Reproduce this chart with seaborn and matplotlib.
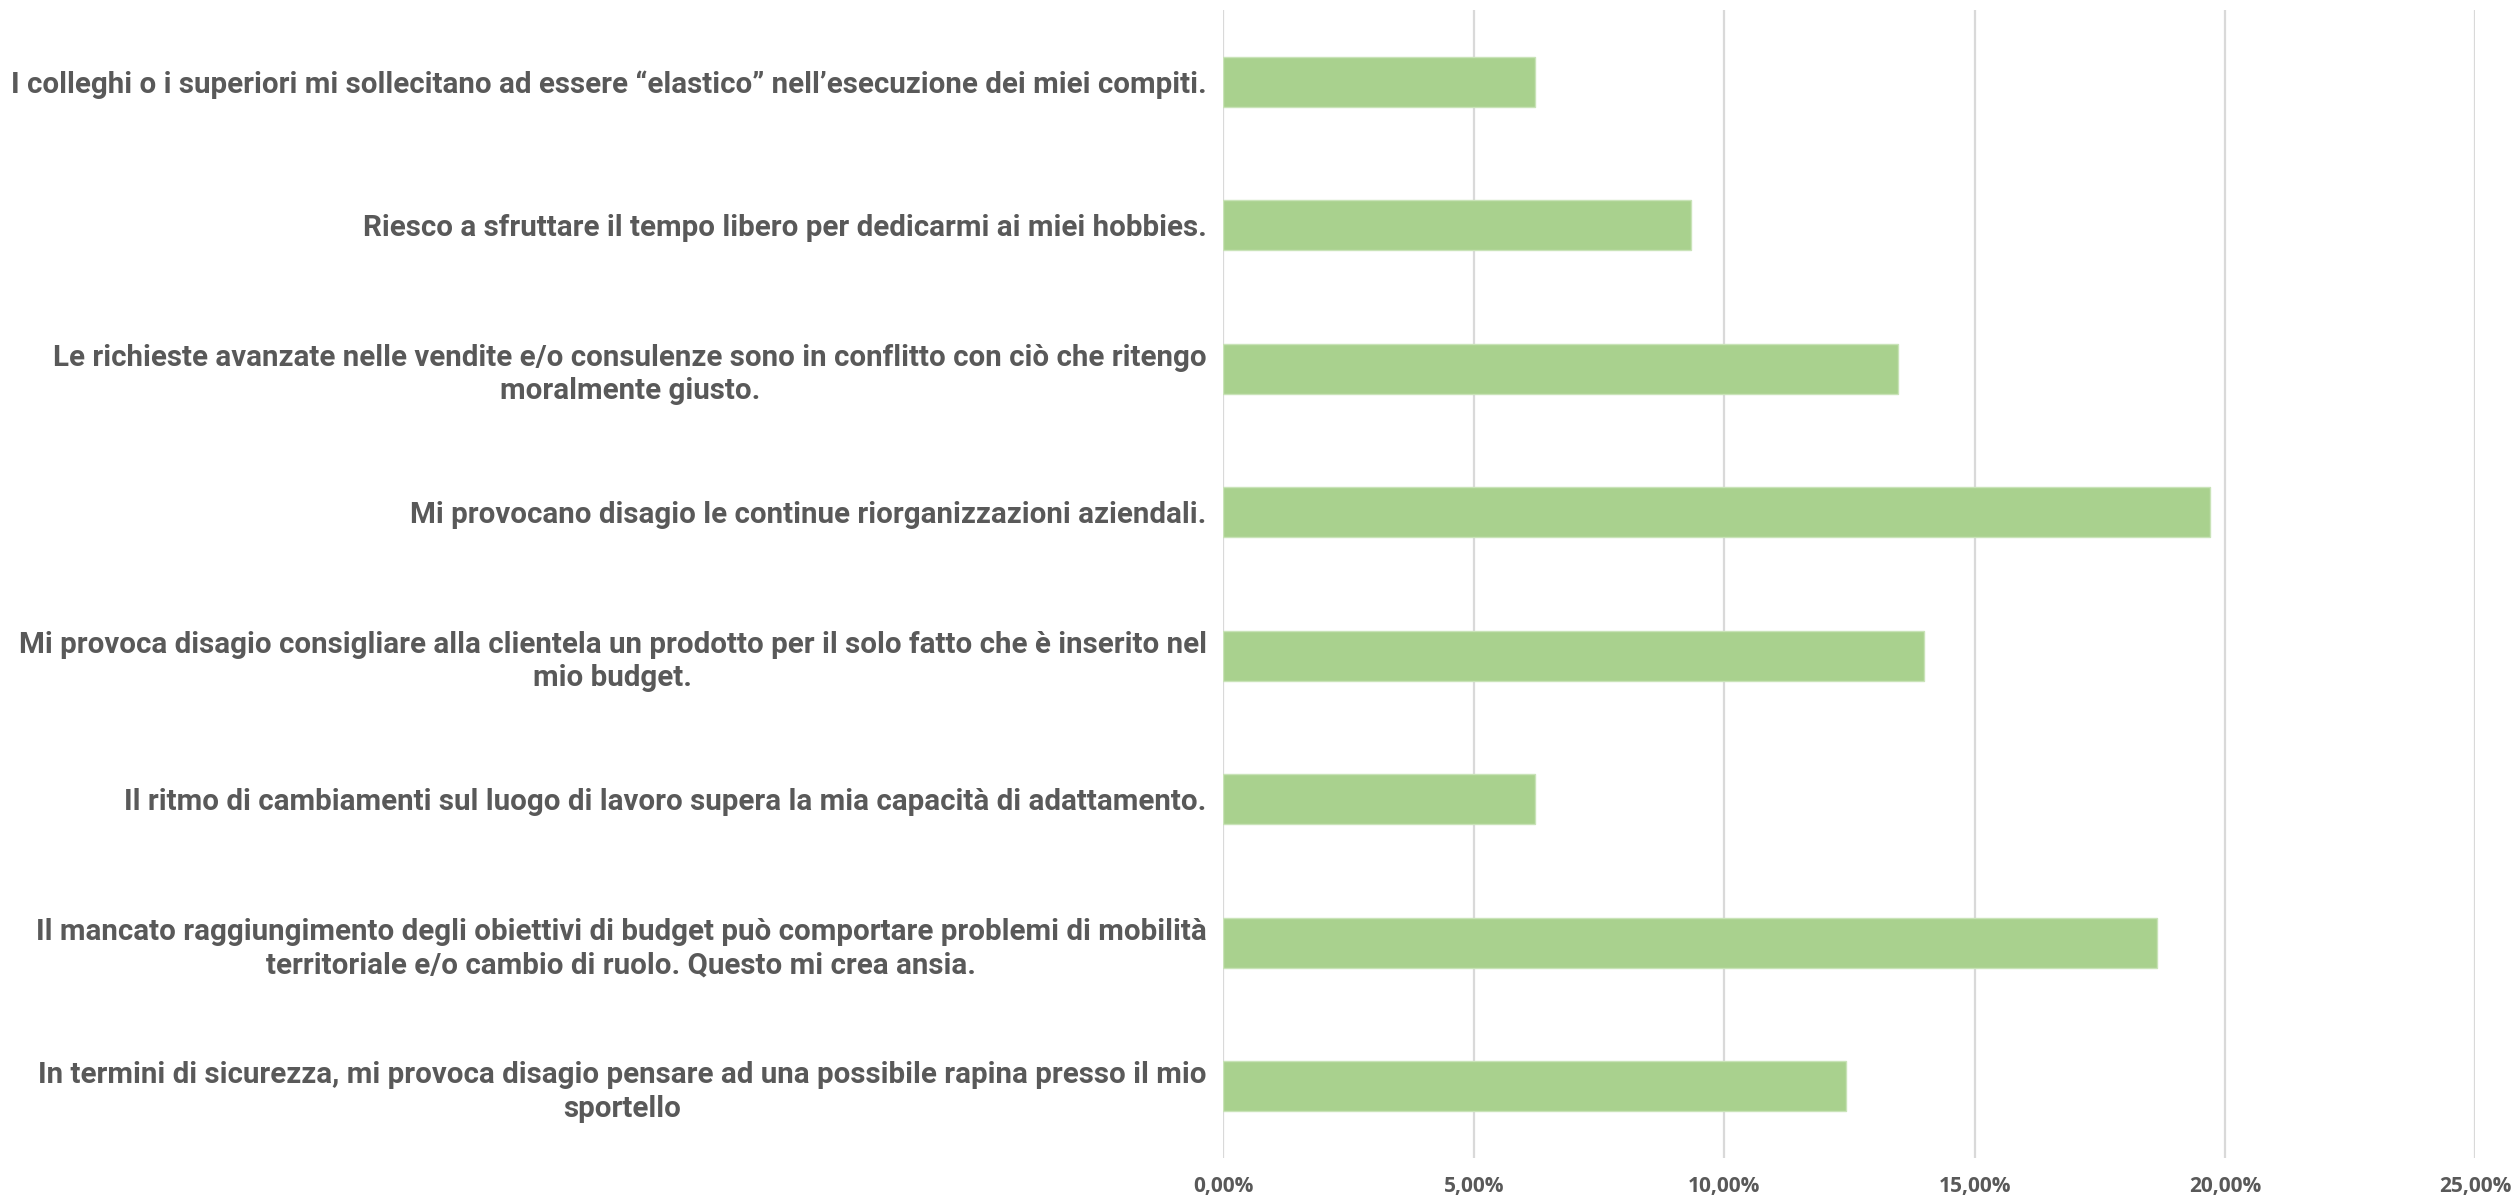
import matplotlib
matplotlib.use("Agg")
import matplotlib.pyplot as plt
import matplotlib.ticker as mticker
import seaborn as sns
import pandas as pd

# Survey items (top to bottom) and share of answers, in percent
statements = [
    "I colleghi o i superiori mi sollecitano ad essere \u201celastico\u201d nell\u2019esecuzione dei miei compiti.",
    "Riesco a sfruttare il tempo libero per dedicarmi ai miei hobbies.",
    "Le richieste avanzate nelle vendite e/o consulenze sono in conflitto con ci\u00f2 che ritengo\nmoralmente giusto.",
    "Mi provocano disagio le continue riorganizzazioni aziendali.",
    "Mi provoca disagio consigliare alla clientela un prodotto per il solo fatto che \u00e8 inserito nel\nmio budget.",
    "Il ritmo di cambiamenti sul luogo di lavoro supera la mia capacit\u00e0 di adattamento.",
    "Il mancato raggiungimento degli obiettivi di budget pu\u00f2 comportare problemi di mobilit\u00e0\nterritoriale e/o cambio di ruolo. Questo mi crea ansia.",
    "In termini di sicurezza, mi provoca disagio pensare ad una possibile rapina presso il mio\nsportello",
]
shares_pct = [6.22, 9.33, 13.47, 19.69, 13.99, 6.22, 18.65, 12.44]

x_ticks_pct = [0, 5, 10, 15, 20, 25]

BAR_COLOR = "#A9D18E"
TEXT_COLOR = "#595959"
GRID_COLOR = "#D9D9D9"

df = pd.DataFrame({"statement": statements, "share": shares_pct})

sns.set_theme(style="white")
plt.rcParams["font.family"] = ["Roboto", "DejaVu Sans"]

fig = plt.figure(figsize=(25.17, 12.01), dpi=100)
ax = fig.add_axes([0.486, 0.0358, 0.4975, 0.9559])

sns.barplot(data=df, x="share", y="statement", orient="h", color=BAR_COLOR,
            saturation=1, width=0.35, edgecolor="#C9E3B8", linewidth=1, ax=ax)

ax.set_xlim(0, 25)
ax.set_ylim(7.5, -0.5)
ax.set_xticks(x_ticks_pct)
ax.xaxis.set_major_formatter(mticker.FuncFormatter(lambda v, p: f"{v:.2f}%".replace(".", ",")))
ax.grid(axis="x", color=GRID_COLOR, linewidth=1.6)
ax.grid(axis="y", visible=False)
ax.set_axisbelow(True)
for s in ax.spines.values():
    s.set_visible(False)
ax.set_xlabel("")
ax.set_ylabel("")
ax.tick_params(axis="both", length=0)
ax.tick_params(axis="y", pad=12)
ax.tick_params(axis="x", pad=13)

ylabels = ax.get_yticklabels()
for lbl in ylabels:
    lbl.set_fontsize(20)
    lbl.set_fontweight("bold")
    lbl.set_color(TEXT_COLOR)
    lbl.set_multialignment("center")
    lbl.set_linespacing(1.25)

# size the category labels so the longest one spans the left margin
fig.canvas.draw()
renderer = fig.canvas.get_renderer()
widest = max(l.get_window_extent(renderer).width for l in ylabels)
target = 1190.0
new_size = 20 * target / widest
for lbl in ylabels:
    lbl.set_fontsize(new_size)

for lbl in ax.get_xticklabels():
    lbl.set_family(["Open Sans", "DejaVu Sans"])
    lbl.set_fontsize(15)
    lbl.set_fontweight("bold")
    lbl.set_color(TEXT_COLOR)

fig.savefig("out.png", dpi=100, facecolor="white")
